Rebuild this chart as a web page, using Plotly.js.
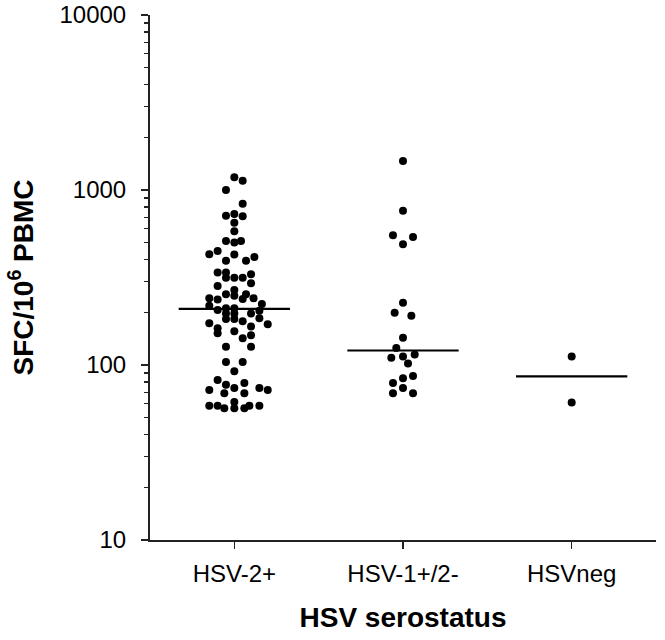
<!DOCTYPE html>
<html>
<head>
<meta charset="utf-8">
<script src="https://cdn.plot.ly/plotly-3.0.1.min.js"></script>
<style>html,body{margin:0;padding:0;background:#fff;}#chart{width:665px;height:640px;}</style>
</head>
<body>
<div id="chart"></div>
<script>
// Categories and tick labels
const categories = ['HSV-2+', 'HSV-1+/2-', 'HSVneg'];
const yTickVals = [10, 100, 1000, 10000];
const yTickText = ['10', '100', '1000', '10000'];

// SFC/10^6 PBMC values per group
const hsv2Values = [1182,1130,1000,835,713,729,707,650,581,511,502,511,429,448,428,394,394,414,
  338,338,315,315,315,330,283,293,254,268,249,254,238,241,237,241,218,223,206,211,211,197,197,197,204,
  183,183,178,185,173,171,162,152,156,166,148,142,127,127,
  104,104,92,82,79,77,74,72,74,72,69,69,58.5,58.5,56.6,61.5,56.6,56.6,58.5,58.5];
// horizontal scatter slot of each dot (beeswarm column)
const hsv2Slots = [0,1,-1,1,-1,0,1,0,0,-1,0,0.8,-3,-2,0,-1,1.4,2.4,
  -2,-1,-1,0,1,2,-2,2,-1,0,0,1.4,1,-3,-2,2.3,-3,3.3,-2,-1,0,-1,0,2,3,
  -1,0,1,3,-3,4,-2,-2,0,2,2,1,-1,2,
  -1,1,0,-2,1.2,-1,0,-3,3,4,-1.2,1.2,-3,-2,-1.2,0,0,1.2,1.8,3];

const hsv1Values = [1465,761,551,539,489,227,199,191,143,125,110,112,115,102,79,84,86.5,74,69,69];
const hsv1Slots  = [0,0,-1.2,1.2,0,0,-1,1,0,-0.8,-1.4,0,1.4,0.6,-1.2,0,1.2,0,-1.2,1.2];

const hsvNegValues = [112, 61];
const hsvNegSlots  = [0, 0];

// Median of each group
const medians = [209, 121, 86];

const groups = [
  {vals: hsv2Values, slots: hsv2Slots},
  {vals: hsv1Values, slots: hsv1Slots},
  {vals: hsvNegValues, slots: hsvNegSlots}
];

const slotWidth = 0.0495;
const halfLine = 0.33;
const traces = [];
groups.forEach((g, i) => {
  traces.push({
    type: 'scatter', mode: 'markers',
    x: g.slots.map(s => i + s * slotWidth),
    y: g.vals,
    marker: {color: '#000', size: 8, line: {width: 0}},
    hoverinfo: 'y', showlegend: false, cliponaxis: false
  });
  traces.push({
    type: 'scatter', mode: 'lines',
    x: [i - halfLine, i + halfLine],
    y: [medians[i], medians[i]],
    line: {color: '#000', width: 2.2},
    hoverinfo: 'skip', showlegend: false
  });
});

const minorVals = [];
[10, 100, 1000].forEach(d => { for (let k = 2; k <= 9; k++) minorVals.push(d * k); });

const fontFam = 'Liberation Sans, Arial, Helvetica, sans-serif';
const layout = {
  width: 665, height: 640,
  margin: {l: 150, r: 9, t: 15, b: 100},
  paper_bgcolor: '#fff', plot_bgcolor: '#fff',
  font: {family: fontFam, color: '#000', size: 24},
  xaxis: {
    range: [-0.5, 2.5], tickmode: 'array', tickvals: [0, 1, 2], ticktext: categories,
    showline: true, linecolor: '#222', linewidth: 2, ticks: 'outside', ticklen: 7, tickwidth: 1.5, tickcolor: '#222',
    showgrid: false, zeroline: false, ticklabelstandoff: 4,
    tickfont: {size: 24, family: fontFam},
    title: {text: '<b>HSV serostatus</b>', font: {size: 28, family: fontFam}, standoff: 22}
  },
  yaxis: {
    type: 'log', range: [1, 4], tickmode: 'array', tickvals: yTickVals, ticktext: yTickText,
    showline: true, linecolor: '#222', linewidth: 2, ticks: 'outside', ticklen: 7, tickwidth: 1.5, tickcolor: '#222',
    showgrid: false, zeroline: false, ticklabelstandoff: 10,
    tickfont: {size: 24, family: fontFam},
    minor: {tickmode: 'array', tickvals: minorVals, ticks: 'outside', ticklen: 4, tickwidth: 1.2, tickcolor: '#222', showgrid: false},
    title: {text: '<b>SFC/10<sup>6</sup> PBMC</b>', font: {size: 28, family: fontFam}, standoff: 18}
  }
};

Plotly.newPlot('chart', traces, layout, {displayModeBar: false, staticPlot: true});
</script>
</body>
</html>
